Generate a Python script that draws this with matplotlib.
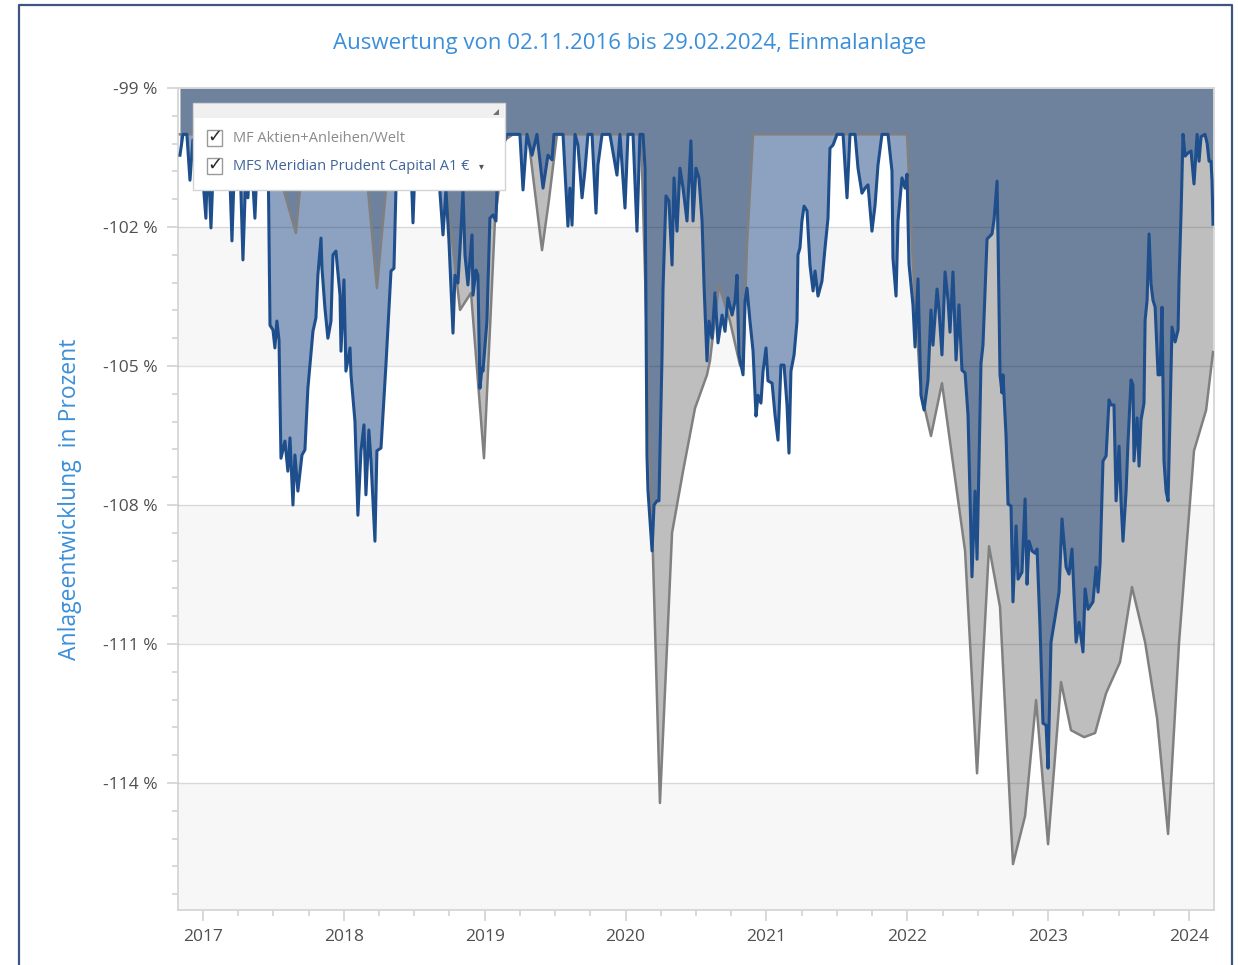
import numpy as np
import matplotlib
matplotlib.use("Agg")
import matplotlib.pyplot as plt
from matplotlib.ticker import MultipleLocator
from matplotlib.lines import Line2D
from matplotlib.patches import Rectangle, Polygon

# ── Texte ──────────────────────────────────────────────────────────────────
TITLE = "Auswertung von 02.11.2016 bis 29.02.2024, Einmalanlage"
YLABEL = "Anlageentwicklung  in Prozent"
SERIES_NAMES = ["MF Aktien+Anleihen/Welt", "MFS Meridian Prudent Capital A1 €"]

YEAR_TICKS = [2017, 2018, 2019, 2020, 2021, 2022, 2023, 2024]
PCT_TICKS = [-99, -102, -105, -108, -111, -114]

# ── Daten (Dezimaljahr, Prozent) ───────────────────────────────────────────
# MF Aktien+Anleihen/Welt (grau)
mf_x = [2016.837, 2017.461, 2017.660, 2017.724, 2018.136, 2018.235, 2018.335,
        2018.455, 2018.491, 2018.519, 2018.683, 2018.825, 2018.903, 2018.995,
        2019.073, 2019.144, 2019.201, 2019.307, 2019.407, 2019.456, 2019.513,
        2020.110, 2020.244, 2020.294, 2020.330, 2020.408, 2020.493, 2020.578,
        2020.599, 2020.663, 2020.741, 2020.812, 2020.834, 2020.862, 2020.905,
        2021.998, 2022.040, 2022.090, 2022.126, 2022.168, 2022.246, 2022.410,
        2022.495, 2022.580, 2022.658, 2022.750, 2022.836, 2022.914, 2022.999,
        2023.091, 2023.162, 2023.255, 2023.333, 2023.411, 2023.510, 2023.595,
        2023.688, 2023.773, 2023.851, 2023.929, 2024.035, 2024.121, 2024.170]
mf_y = [-100.0, -100.0, -102.13, -100.0, -100.0, -103.32, -100.0,
        -100.0, -101.57, -100.0, -100.0, -103.79, -103.42, -106.99,
        -101.85, -100.12, -100.0, -100.0, -102.50, -101.42, -100.0,
        -100.0, -114.43, -111.07, -108.60, -107.27, -105.91, -105.19,
        -104.89, -103.25, -104.03, -104.98, -105.09, -102.39, -100.0,
        -100.0, -102.80, -105.30, -105.95, -106.51, -105.37, -108.99,
        -113.79, -108.89, -110.20, -115.75, -114.71, -112.21, -115.32,
        -111.82, -112.86, -113.01, -112.92, -112.06, -111.39, -109.77,
        -110.96, -112.60, -115.10, -110.96, -106.83, -105.95, -104.70]

# MFS Meridian Prudent Capital A1 € (blau)
mfs_x = [2016.837, 2016.858, 2016.886, 2016.908, 2016.929, 2016.979, 2017.021,
         2017.035, 2017.057, 2017.078, 2017.121, 2017.185, 2017.206, 2017.227,
         2017.263, 2017.284, 2017.305, 2017.319, 2017.341, 2017.369, 2017.390,
         2017.433, 2017.461, 2017.476, 2017.497, 2017.511, 2017.525, 2017.540,
         2017.554, 2017.582, 2017.603, 2017.618, 2017.639, 2017.653, 2017.674,
         2017.703, 2017.724, 2017.745, 2017.781, 2017.802, 2017.816, 2017.838,
         2017.845, 2017.866, 2017.887, 2017.909, 2017.923, 2017.944, 2017.973,
         2017.980, 2018.001, 2018.015, 2018.044, 2018.051, 2018.079, 2018.100,
         2018.122, 2018.143, 2018.157, 2018.178, 2018.193, 2018.221, 2018.235,
         2018.264, 2018.299, 2018.335, 2018.356, 2018.370, 2018.384, 2018.413,
         2018.470, 2018.491, 2018.512, 2018.576, 2018.612, 2018.654, 2018.683,
         2018.704, 2018.725, 2018.746, 2018.775, 2018.789, 2018.810, 2018.825,
         2018.846, 2018.860, 2018.881, 2018.910, 2018.917, 2018.938, 2018.952,
         2018.966, 2018.981, 2018.988, 2019.016, 2019.037, 2019.059, 2019.080,
         2019.087, 2019.123, 2019.158, 2019.250, 2019.272, 2019.300, 2019.336,
         2019.371, 2019.414, 2019.428, 2019.449, 2019.478, 2019.492, 2019.556,
         2019.591, 2019.605, 2019.620, 2019.641, 2019.662, 2019.691, 2019.712,
         2019.733, 2019.762, 2019.790, 2019.804, 2019.833, 2019.889, 2019.939,
         2019.960, 2019.996, 2020.017, 2020.053, 2020.081, 2020.102, 2020.124,
         2020.138, 2020.152, 2020.159, 2020.188, 2020.202, 2020.223, 2020.237,
         2020.259, 2020.266, 2020.287, 2020.308, 2020.330, 2020.344, 2020.365,
         2020.386, 2020.408, 2020.436, 2020.464, 2020.479, 2020.500, 2020.521,
         2020.543, 2020.557, 2020.578, 2020.592, 2020.614, 2020.635, 2020.656,
         2020.685, 2020.706, 2020.727, 2020.756, 2020.777, 2020.791, 2020.805,
         2020.834, 2020.848, 2020.862, 2020.883, 2020.905, 2020.926, 2020.940,
         2020.961, 2020.976, 2020.997, 2021.011, 2021.040, 2021.061, 2021.082,
         2021.103, 2021.125, 2021.146, 2021.160, 2021.174, 2021.196, 2021.217,
         2021.224, 2021.238, 2021.252, 2021.267, 2021.288, 2021.309, 2021.331,
         2021.345, 2021.366, 2021.394, 2021.416, 2021.437, 2021.451, 2021.473,
         2021.501, 2021.544, 2021.572, 2021.593, 2021.629, 2021.650, 2021.678,
         2021.700, 2021.721, 2021.749, 2021.771, 2021.792, 2021.820, 2021.863,
         2021.891, 2021.898, 2021.920, 2021.934, 2021.962, 2021.984, 2021.998,
         2022.012, 2022.040, 2022.055, 2022.076, 2022.097, 2022.119, 2022.147,
         2022.168, 2022.182, 2022.211, 2022.225, 2022.246, 2022.268, 2022.289,
         2022.303, 2022.324, 2022.346, 2022.367, 2022.388, 2022.410, 2022.431,
         2022.459, 2022.481, 2022.495, 2022.523, 2022.537, 2022.566, 2022.601,
         2022.616, 2022.637, 2022.644, 2022.658, 2022.672, 2022.679, 2022.701,
         2022.715, 2022.736, 2022.750, 2022.772, 2022.786, 2022.814, 2022.836,
         2022.850, 2022.864, 2022.885, 2022.907, 2022.921, 2022.942, 2022.963,
         2022.985, 2022.999, 2023.020, 2023.049, 2023.077, 2023.098, 2023.127,
         2023.148, 2023.169, 2023.198, 2023.219, 2023.247, 2023.262, 2023.283,
         2023.318, 2023.340, 2023.354, 2023.368, 2023.389, 2023.411, 2023.432,
         2023.446, 2023.467, 2023.482, 2023.503, 2023.517, 2023.531, 2023.553,
         2023.567, 2023.588, 2023.602, 2023.609, 2023.631, 2023.645, 2023.659,
         2023.680, 2023.688, 2023.702, 2023.716, 2023.730, 2023.744, 2023.759,
         2023.780, 2023.794, 2023.808, 2023.822, 2023.837, 2023.851, 2023.872,
         2023.879, 2023.901, 2023.922, 2023.929, 2023.943, 2023.957, 2023.972,
         2023.993, 2024.014, 2024.035, 2024.057, 2024.071, 2024.085, 2024.113,
         2024.128, 2024.142, 2024.156, 2024.163, 2024.170]
mfs_y = [-100.45, -100.0, -100.0, -100.99, -100.12, -100.12, -101.81,
         -100.34, -102.02, -100.34, -100.23, -100.34, -102.30, -100.34,
         -100.55, -102.71, -100.77, -101.37, -100.34, -101.81, -100.23,
         -100.0, -100.0, -104.12, -104.22, -104.61, -104.03, -104.44,
         -106.99, -106.62, -107.27, -106.55, -108.00, -106.92, -107.70,
         -106.92, -106.81, -105.48, -104.25, -103.96, -103.04, -102.24,
         -102.89, -103.75, -104.40, -104.03, -102.60, -102.52, -103.47,
         -104.68, -103.14, -105.11, -104.61, -105.19, -106.19, -108.22,
         -106.83, -106.27, -107.78, -106.38, -107.05, -108.78, -106.83,
         -106.77, -104.98, -102.95, -102.89, -101.20, -100.12, -100.0,
         -100.0, -101.91, -100.12, -100.0, -100.55, -100.12, -101.27,
         -102.17, -101.20, -102.28, -104.29, -103.04, -103.21, -102.45,
         -101.22, -102.60, -103.25, -102.17, -103.47, -102.93, -103.04,
         -105.48, -105.04, -105.11, -104.03, -101.81, -101.74, -101.87,
         -101.22, -100.34, -100.0, -100.0, -101.20, -100.0, -100.45,
         -100.0, -101.16, -100.88, -100.45, -100.55, -100.0, -100.0,
         -101.98, -101.16, -101.96, -100.0, -100.23, -101.37, -100.77,
         -100.0, -100.0, -101.70, -100.66, -100.0, -100.0, -100.88,
         -100.0, -101.59, -100.0, -100.0, -102.09, -100.0, -100.0,
         -100.73, -106.92, -107.68, -108.99, -108.00, -107.91, -107.91,
         -104.76, -103.32, -101.33, -101.44, -102.82, -100.94, -102.09,
         -100.73, -101.16, -101.87, -100.14, -101.87, -100.73, -100.94,
         -101.87, -103.25, -104.89, -104.03, -104.40, -103.42, -104.50,
         -103.90, -104.25, -103.53, -103.90, -103.60, -103.04, -104.76,
         -105.19, -103.60, -103.32, -104.03, -104.68, -106.08, -105.63,
         -105.80, -105.11, -104.61, -105.32, -105.37, -106.06, -106.60,
         -104.98, -104.98, -105.84, -106.88, -105.11, -104.76, -104.03,
         -102.60, -102.45, -101.87, -101.55, -101.65, -102.82, -103.38,
         -102.95, -103.49, -103.17, -102.45, -101.81, -100.30, -100.23,
         -100.0, -100.0, -101.37, -100.0, -100.0, -100.73, -101.27,
         -101.16, -101.09, -102.09, -101.53, -100.66, -100.0, -100.0,
         -100.79, -102.67, -103.49, -101.87, -100.94, -101.16, -100.86,
         -102.80, -103.68, -104.59, -103.12, -105.63, -105.95, -105.30,
         -103.79, -104.55, -103.34, -103.79, -104.76, -102.97, -103.58,
         -104.27, -102.97, -104.87, -103.68, -105.09, -105.15, -106.06,
         -109.55, -107.70, -109.17, -104.94, -104.55, -102.26, -102.15,
         -101.83, -101.01, -102.26, -105.19, -105.58, -105.19, -106.51,
         -107.98, -108.02, -110.09, -108.45, -109.60, -109.45, -107.87,
         -109.71, -108.78, -108.99, -109.04, -108.95, -110.63, -112.71,
         -112.75, -113.68, -110.96, -110.42, -109.88, -108.30, -109.34,
         -109.49, -108.95, -110.96, -110.53, -111.17, -109.81, -110.25,
         -110.09, -109.34, -109.88, -109.27, -107.05, -106.94, -105.73,
         -105.84, -105.84, -107.91, -106.73, -107.91, -108.78, -107.70,
         -106.62, -105.30, -105.41, -107.05, -106.12, -107.16, -106.17,
         -105.80, -104.01, -103.58, -102.15, -103.23, -103.58, -103.73,
         -105.19, -105.19, -103.73, -107.05, -107.70, -107.91, -105.09,
         -104.16, -104.48, -104.22, -103.12, -101.72, -100.0, -100.47,
         -100.40, -100.36, -101.07, -100.0, -100.58, -100.05, -100.0,
         -100.19, -100.58, -100.58, -101.01, -101.94]

# ── Farben ─────────────────────────────────────────────────────────────────
BLUE_TEXT = '#3b8fd9'
C_BOTH = '#6e829e'        # beide Flächen überlagert
C_BLUE_ONLY = '#8da2c1'
C_GRAY_ONLY = '#bebebe'
C_BLUE_LINE = '#1f4e8c'
C_GRAY_LINE = '#808080'
C_FRAME = '#3d5580'
C_TICK = '#d2d2d2'

W, H = 1238, 965
FONT = 'Open Sans'


def fx(px):
    return px / W


def fy(py):
    return 1 - py / H


fig = plt.figure(figsize=(W / 100, H / 100), dpi=100)
fig.patch.set_facecolor('white')

ax = fig.add_axes([fx(178), fy(910), fx(1214) - fx(178), fy(88) - fy(910)])
y_top, y_bot = -99, -116.74
ax.set_xlim(2016.823, 2024.177)
ax.set_ylim(y_bot, y_top)

# Hintergrundstreifen
bands = [(PCT_TICKS[2], PCT_TICKS[1]), (PCT_TICKS[4], PCT_TICKS[3]), (y_bot, PCT_TICKS[5])]
for lo, hi in bands:
    ax.axhspan(lo, hi, color='#f7f7f7', lw=0, zorder=0)

# ── Flächen ────────────────────────────────────────────────────────────────
xs = np.union1d(mf_x, mfs_x)
g = np.interp(xs, mf_x, mf_y)
b = np.interp(xs, mfs_x, mfs_y)
upper = np.maximum(g, b)
ax.fill_between(xs, y_top, upper, color=C_BOTH, lw=0, zorder=2)
ax.fill_between(xs, g, b, where=b < g, interpolate=True, color=C_BLUE_ONLY, lw=0, zorder=2)
ax.fill_between(xs, b, g, where=g < b, interpolate=True, color=C_GRAY_ONLY, lw=0, zorder=2)

# Gitterlinien
for t in PCT_TICKS[1:]:
    ax.axhline(t, color='black', alpha=0.12, lw=1.0, zorder=3)

ax.plot(mf_x, mf_y, color=C_GRAY_LINE, lw=1.8, zorder=4, solid_joinstyle='round')
ax.plot(mfs_x, mfs_y, color=C_BLUE_LINE, lw=2.2, zorder=5, solid_joinstyle='round')

# ── Achsen ────────────────────────────────────────────────────────────────
ax.set_xticks(YEAR_TICKS)
ax.set_xticklabels([str(y) for y in YEAR_TICKS])
ax.xaxis.set_minor_locator(MultipleLocator(0.25))
ax.set_yticks(PCT_TICKS)
ax.set_yticklabels([f"{t} %" for t in PCT_TICKS])
ax.yaxis.set_minor_locator(MultipleLocator(0.6))

ax.tick_params(which='major', length=8, width=1.2, color=C_TICK,
               labelsize=12.5, labelcolor='#505050')
ax.tick_params(which='minor', length=4, width=1.2, color=C_TICK)
ax.tick_params(axis='y', pad=7)
ax.tick_params(axis='x', pad=6)
for lab in ax.get_xticklabels() + ax.get_yticklabels():
    lab.set_fontfamily(FONT)
for sp in ax.spines.values():
    sp.set_color('#d6d6d6')
    sp.set_linewidth(1.3)

# ── Titel und Achsenbeschriftung ────────────────────────────────────────────
fig.text(fx(630), fy(43), TITLE, ha='center', va='center', fontsize=16,
         color=BLUE_TEXT, family=FONT)
fig.text(fx(70), fy(499), YLABEL, ha='center', va='center', rotation=90,
         fontsize=16.5, color=BLUE_TEXT, family=FONT)

# ── Legende (Kasten mit Häkchen) ────────────────────────────────────────────
fig.add_artist(Rectangle((fx(193), fy(190)), fx(505) - fx(193), fy(103) - fy(190),
                         transform=fig.transFigure, facecolor='white',
                         edgecolor='#d4d4d4', lw=1, zorder=10))
fig.add_artist(Rectangle((fx(194), fy(118)), fx(504) - fx(194), fy(104) - fy(118),
                         transform=fig.transFigure, facecolor='#f0f0f0',
                         edgecolor='none', zorder=11))
fig.add_artist(Polygon([(fx(493), fy(115)), (fx(499), fy(115)), (fx(499), fy(109))],
                       closed=True, transform=fig.transFigure, facecolor='#707070',
                       edgecolor='none', zorder=12))

legend_colors = ['#8a8a8a', '#40659a']
for i, name in enumerate(SERIES_NAMES):
    cy = 138 + i * 28
    fig.add_artist(Rectangle((fx(207), fy(cy + 7.5)), fx(15), 15 / H,
                             transform=fig.transFigure, facecolor='white',
                             edgecolor='#9a9a9a', lw=1, zorder=12))
    fig.text(fx(215), fy(cy - 1), "✓", ha='center', va='center', fontsize=13,
             color='#2a2a2a', family='DejaVu Sans', zorder=13)
    fig.text(fx(233), fy(cy), name, ha='left', va='center', fontsize=10.5,
             color=legend_colors[i], family=FONT, zorder=13)
fig.text(fx(481), fy(166), "▾", ha='center', va='center', fontsize=7,
         color='#555555', family='DejaVu Sans', zorder=13)

# ── Fensterrahmen ──────────────────────────────────────────────────────────
fig.add_artist(Line2D([fx(19), fx(19), fx(1232), fx(1232)],
                      [fy(975), fy(5), fy(5), fy(975)],
                      transform=fig.transFigure, color=C_FRAME, lw=1.6, zorder=20))

fig.savefig('out.png', dpi=100)
